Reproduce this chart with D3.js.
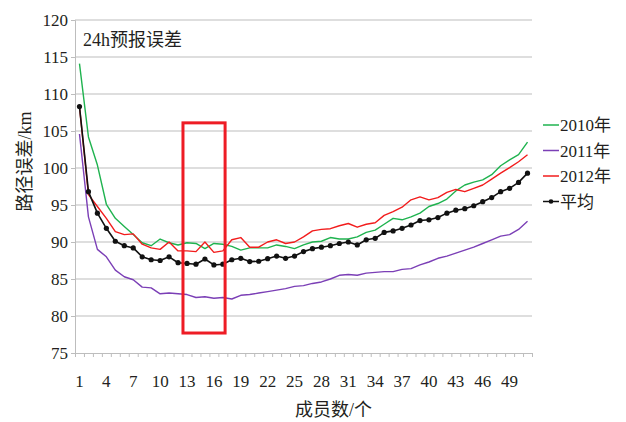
<!DOCTYPE html>
<html>
<head>
<meta charset="utf-8">
<script src="https://cdn.jsdelivr.net/npm/d3@7"></script>
<style>
  html, body { margin: 0; padding: 0; background: #fff; }
  svg text { font-family: "Liberation Serif", "Noto Sans CJK SC", serif; fill: #231f20; }
</style>
</head>
<body>
<svg id="chart" width="626" height="422"></svg>
<script>
// Ensemble size (number of members)
const members = d3.range(1, 52);
const xTickLabels = [1, 4, 7, 10, 13, 16, 19, 22, 25, 28, 31, 34, 37, 40, 43, 46, 49];
const yTickLabels = [75, 80, 85, 90, 95, 100, 105, 110, 115, 120];

// 24 h track error (km) per ensemble size
const err2010 = [114.1, 104.2, 100.4, 95.1, 93.2, 92.1, 91.0, 89.9, 89.5, 90.4,
  89.9, 89.6, 89.9, 89.8, 89.1, 89.8, 89.7, 89.4, 88.9, 89.2,
  89.2, 89.2, 89.6, 89.4, 89.1, 89.6, 90.0, 90.1, 90.6, 90.4,
  90.4, 90.7, 91.3, 91.6, 92.4, 93.2, 93.0, 93.4, 93.9, 94.8,
  95.2, 95.8, 96.9, 97.7, 98.1, 98.4, 99.1, 100.3, 101.1, 101.8, 103.5];
const err2011 = [104.6, 93.4, 89.0, 88.0, 86.2, 85.3, 84.9, 83.9, 83.8, 83.0,
  83.1, 83.0, 82.9, 82.5, 82.6, 82.4, 82.5, 82.3, 82.8, 82.9,
  83.1, 83.3, 83.5, 83.7, 84.0, 84.1, 84.4, 84.6, 85.0, 85.5,
  85.6, 85.5, 85.8, 85.9, 86.0, 86.0, 86.3, 86.4, 86.9, 87.3,
  87.8, 88.1, 88.5, 88.9, 89.3, 89.8, 90.3, 90.8, 91.0, 91.7, 92.8];
const err2012 = [108.3, 96.4, 94.8, 93.2, 91.4, 91.0, 91.1, 89.7, 89.2, 89.0,
  90.0, 88.8, 88.8, 88.7, 90.0, 88.6, 88.8, 90.3, 90.6, 89.3,
  89.3, 90.0, 90.3, 89.8, 90.0, 90.7, 91.5, 91.7, 91.8, 92.2,
  92.5, 92.0, 92.4, 92.6, 93.6, 94.1, 94.7, 95.7, 96.1, 95.7,
  96.0, 96.7, 97.1, 96.8, 97.25, 97.7, 98.5, 99.3, 100.05, 100.85, 101.8];
const errMean = [108.3, 96.8, 93.9, 91.85, 90.1, 89.5, 89.2, 88.0, 87.6, 87.5,
  88.0, 87.2, 87.1, 87.0, 87.7, 86.9, 87.0, 87.6, 87.8, 87.35,
  87.4, 87.75, 88.1, 87.8, 88.1, 88.7, 89.1, 89.3, 89.5, 89.8,
  90.0, 89.6, 90.3, 90.5, 91.3, 91.5, 91.85, 92.3, 92.9, 93.0,
  93.3, 93.9, 94.3, 94.5, 94.9, 95.45, 96.0, 96.8, 97.25, 98.05, 99.3];

const seriesNames = ["2010年", "2011年", "2012年", "平均"];
const seriesColors = ["#1fb34f", "#7b3fb6", "#f21c1c", "#111111"];

// Highlighted member range (member index / km)
const highlightMembers = [12.55, 17.25];
const highlightError = [77.7, 106.1];

const svg = d3.select("#chart");
const margin = { left: 75, right: 94, top: 20, bottom: 69 };
const W = 626, H = 422;

const x = d3.scaleLinear().domain([0.5, 51.5]).range([margin.left, W - margin.right]);
const y = d3.scaleLinear().domain([75, 120]).range([H - margin.bottom, margin.top]);

// horizontal grid
svg.append("g")
  .selectAll("line").data(yTickLabels.filter(v => v > 75)).join("line")
  .attr("x1", x.range()[0]).attr("x2", x.range()[1])
  .attr("y1", d => y(d)).attr("y2", d => y(d))
  .attr("stroke", "#bdbdbd").attr("stroke-width", 1);

// y axis
const yAxis = svg.append("g")
  .attr("transform", `translate(${x.range()[0]},0)`)
  .call(d3.axisLeft(y).tickValues(yTickLabels).tickSize(4).tickPadding(3).tickFormat(d3.format("d")));
yAxis.select(".domain").attr("stroke", "#bdbdbd");
yAxis.selectAll(".tick line").attr("stroke", "#bdbdbd");
yAxis.selectAll(".tick text").attr("font-size", 17).attr("fill", "#231f20");

// x axis: minor ticks at each member boundary, labels every third member
const xAxis = svg.append("g")
  .attr("transform", `translate(0,${y.range()[0]})`)
  .call(d3.axisBottom(x).tickValues(d3.range(0.5, 52, 1)).tickSize(4).tickFormat(""));
xAxis.select(".domain").attr("stroke", "#bdbdbd");
xAxis.selectAll(".tick line").attr("stroke", "#bdbdbd");

svg.append("g")
  .selectAll("text").data(xTickLabels).join("text")
  .attr("x", d => x(d)).attr("y", y.range()[0] + 34)
  .attr("text-anchor", "middle").attr("font-size", 17)
  .text(d => d);

// series lines
const allSeries = [err2010, err2011, err2012, errMean];
const line = d3.line().x((d, i) => x(members[i])).y(d => y(d));

allSeries.forEach((vals, k) => {
  svg.append("path")
    .datum(vals)
    .attr("fill", "none")
    .attr("stroke", seriesColors[k])
    .attr("stroke-width", k === 3 ? 1.6 : 1.4)
    .attr("stroke-linejoin", "round")
    .attr("d", line);
});

// markers on the mean curve
svg.append("g")
  .selectAll("circle").data(errMean).join("circle")
  .attr("cx", (d, i) => x(members[i])).attr("cy", d => y(d))
  .attr("r", 2.6).attr("fill", "#111");

// highlight box
svg.append("rect")
  .attr("x", x(highlightMembers[0])).attr("y", y(highlightError[1]))
  .attr("width", x(highlightMembers[1]) - x(highlightMembers[0]))
  .attr("height", y(highlightError[0]) - y(highlightError[1]))
  .attr("fill", "none").attr("stroke", "#ee1c25").attr("stroke-width", 3);

// panel title
svg.append("text")
  .attr("x", 83).attr("y", 46)
  .attr("font-size", 18)
  .text("24h预报误差");

// axis titles
svg.append("text")
  .attr("x", (x.range()[0] + x.range()[1]) / 2 + 30).attr("y", 416)
  .attr("text-anchor", "middle").attr("font-size", 18)
  .text("成员数/个");

svg.append("text")
  .attr("transform", `translate(31,${(y.range()[0] + y.range()[1]) / 2 - 25}) rotate(-90)`)
  .attr("text-anchor", "middle").attr("font-size", 18)
  .text("路径误差/km");

// legend
const legend = svg.append("g").attr("transform", "translate(543,125)");
seriesNames.forEach((name, k) => {
  const g = legend.append("g").attr("transform", `translate(0,${k * 25.5})`);
  g.append("line").attr("x1", 0).attr("x2", 16).attr("y1", 0).attr("y2", 0)
    .attr("stroke", seriesColors[k]).attr("stroke-width", 1.5);
  if (k === 3) g.append("circle").attr("cx", 8).attr("cy", 0).attr("r", 2.3).attr("fill", "#111");
  g.append("text").attr("x", 17).attr("y", 6).attr("font-size", 17).text(name);
});
</script>
</body>
</html>
